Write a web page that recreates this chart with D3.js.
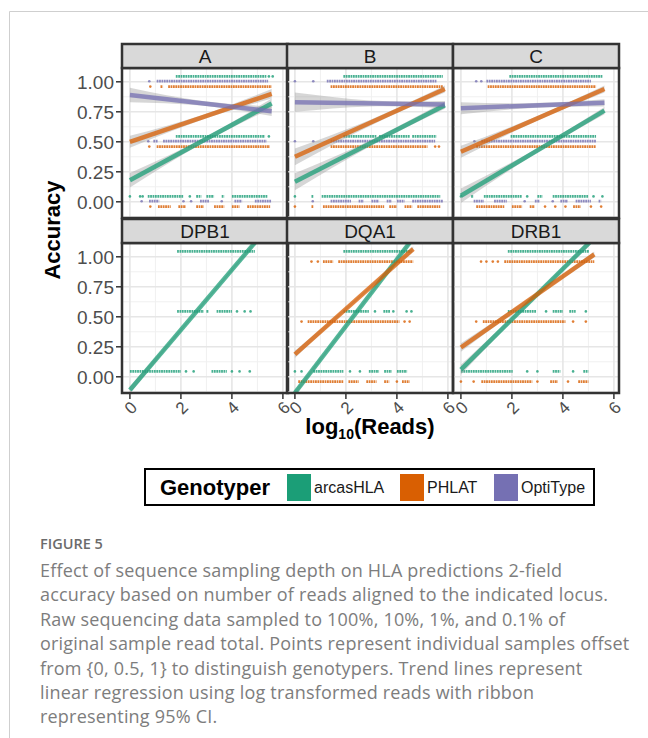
<!DOCTYPE html>
<html>
<head>
<meta charset="utf-8">
<title>HLA accuracy vs reads</title>
<script src="https://d3js.org/d3.v7.min.js"></script>
<style>
  body { margin: 0; background: #fff; }
  svg text { font-family: "Liberation Sans", Arial, sans-serif; }
  svg text.cap { font-family: "Open Sans", sans-serif; }
</style>
</head>
<body>
<script>
var panels = ["A", "B", "C", "DPB1", "DQA1", "DRB1"];
var genotypers = ["arcasHLA", "PHLAT", "OptiType"];
var genoColors = ["#1b9e77", "#d95f02", "#7570b3"];
var genoOffset = [0.045, -0.04, 0.005];   // points are shifted off 0 / 0.5 / 1
var yTicks = [0, 0.25, 0.5, 0.75, 1];
var xTicks = [0, 2, 4, 6];

// panel, genotyper, x start, y start, x end, y end, ribbon half width (left, middle, right)
var fits = [
  ["A", "arcasHLA", 0, 0.18, 5.56, 0.82, 0.06, 0.02, 0.04],
  ["A", "PHLAT", 0, 0.50, 5.56, 0.90, 0.05, 0.02, 0.04],
  ["A", "OptiType", 0, 0.89, 5.56, 0.755, 0.06, 0.02, 0.04],
  ["B", "arcasHLA", 0, 0.167, 5.88, 0.805, 0.07, 0.025, 0.03],
  ["B", "PHLAT", 0, 0.375, 5.88, 0.94, 0.07, 0.025, 0.03],
  ["B", "OptiType", 0, 0.83, 5.88, 0.81, 0.08, 0.025, 0.03],
  ["C", "arcasHLA", 0, 0.05, 5.63, 0.76, 0.06, 0.02, 0.03],
  ["C", "PHLAT", 0, 0.417, 5.63, 0.94, 0.05, 0.02, 0.03],
  ["C", "OptiType", 0, 0.78, 5.63, 0.825, 0.05, 0.02, 0.03],
  ["DPB1", "arcasHLA", 0, -0.11, 4.95, 1.13, 0.03, 0.01, 0.015],
  ["DQA1", "arcasHLA", 0, -0.134, 4.57, 1.137, 0.02, 0.01, 0.015],
  ["DQA1", "PHLAT", 0, 0.187, 4.64, 1.065, 0.03, 0.01, 0.02],
  ["DRB1", "arcasHLA", 0, 0.06, 5.04, 1.118, 0.04, 0.015, 0.025],
  ["DRB1", "PHLAT", 0, 0.244, 5.23, 1.02, 0.035, 0.015, 0.025]
];

// panel, genotyper, accuracy level, runs of samples along log10(reads): [x] one sample, [x0, x1] dense run
var strips = [
  ["A", "arcasHLA", 1, [[1.8, 5.35], [5.45], [5.6]]],
  ["A", "OptiType", 1, [[0.76], [1.05, 5.42]]],
  ["A", "PHLAT", 1, [[0.8], [1.2, 1.3], [1.5, 5.56]]],
  ["A", "arcasHLA", 0.5, [[1.8, 5.3], [5.45]]],
  ["A", "OptiType", 0.5, [[0.72], [0.92, 1.1], [1.3, 5.36]]],
  ["A", "PHLAT", 0.5, [[0.76], [1.05, 5.49]]],
  ["A", "arcasHLA", 0, [[0], [0.4], [0.5], [0.7, 2.1], [2.35], [2.6, 2.8], [3.0, 3.3], [3.6, 3.7], [4.0, 5.4]]],
  ["A", "OptiType", 0, [[0.46], [0.75, 1.15], [2.1], [2.4], [2.75, 3.1], [3.6], [4.1, 4.4], [4.9, 5.55]]],
  ["A", "PHLAT", 0, [[0.8], [1.1, 1.6], [1.9, 2.2], [2.6, 2.9], [3.3, 3.7], [4.0, 4.3], [4.6, 5.5]]],

  ["B", "arcasHLA", 1, [[1.9, 5.8]]],
  ["B", "OptiType", 1, [[0], [0.72], [1.25, 5.55]]],
  ["B", "PHLAT", 1, [[1.4, 5.8]]],
  ["B", "arcasHLA", 0.5, [[1.9, 3.2], [3.3, 4.5], [4.6, 5.55]]],
  ["B", "OptiType", 0.5, [[0], [0.72], [1.4, 5.5]]],
  ["B", "PHLAT", 0.5, [[1.4, 5.2], [5.5], [5.65]]],
  ["B", "arcasHLA", 0, [[0], [0.65, 0.72], [1.05, 5.7]]],
  ["B", "OptiType", 0, [[0.7], [1.4, 2.2], [2.5, 2.7], [3.0, 3.3], [3.6, 3.8], [4.0, 4.3], [4.6, 5.8]]],
  ["B", "PHLAT", 0, [[0], [0.65, 0.72], [1.1, 3.5], [3.7, 4.0], [4.3, 4.6], [4.8, 5.7]]],

  ["C", "arcasHLA", 1, [[1.9, 5.56]]],
  ["C", "OptiType", 1, [[0.6], [0.8], [1.0, 5.1]]],
  ["C", "PHLAT", 1, [[1.05, 5.3]]],
  ["C", "arcasHLA", 0.5, [[1.95, 5.3]]],
  ["C", "OptiType", 0.5, [[0.53], [0.8, 5.3]]],
  ["C", "PHLAT", 0.5, [[0.6, 5.3]]],
  ["C", "arcasHLA", 0, [[0], [0.4, 0.5], [0.9, 2.4], [2.6], [3.0, 3.2], [3.6, 5.0], [5.2], [5.55]]],
  ["C", "OptiType", 0, [[0.5, 0.9], [1.3, 1.8], [2.5], [2.9, 3.1], [3.6], [3.9, 4.2], [4.5, 5.1], [5.4, 5.5]]],
  ["C", "PHLAT", 0, [[0.6, 1.7], [2.0, 2.4], [2.7, 2.9], [3.3], [3.7], [4.1], [4.4, 4.7], [5.1], [5.5]]],

  ["DPB1", "arcasHLA", 1, [[1.85, 4.9]]],
  ["DPB1", "arcasHLA", 0.5, [[1.85, 2.9], [3.0, 3.1], [3.4, 4.0], [4.2], [4.5], [4.73]]],
  ["DPB1", "arcasHLA", 0, [[0, 2.0], [2.2], [2.5], [3.2, 3.8], [4.0], [4.3], [4.7]]],

  ["DQA1", "arcasHLA", 1, [[1.9, 4.57]]],
  ["DQA1", "PHLAT", 1, [[0.65], [0.9], [1.1, 1.5], [1.7, 4.64]]],
  ["DQA1", "arcasHLA", 0.5, [[1.9, 2.9], [3.14], [3.47, 3.73], [3.86], [4.38], [4.57]]],
  ["DQA1", "PHLAT", 0.5, [[0.26], [0.5, 4.1], [4.3], [4.5]]],
  ["DQA1", "arcasHLA", 0, [[0], [0.26], [0.72, 1.9], [2.16], [2.55], [2.9, 3.3], [3.5, 3.8], [4.0, 4.4]]],
  ["DQA1", "PHLAT", 0, [[0.13, 1.9], [2.1, 2.5], [2.8, 3.2], [3.5, 3.7], [4.0], [4.2, 4.5]]],

  ["DRB1", "arcasHLA", 1, [[1.84, 5.04]]],
  ["DRB1", "PHLAT", 1, [[0.79], [1.0], [1.25], [1.45], [1.7, 5.23]]],
  ["DRB1", "arcasHLA", 0.5, [[1.84, 2.95], [3.34], [3.6, 4.0], [4.25, 4.5], [4.9]]],
  ["DRB1", "PHLAT", 0.5, [[0.6], [0.86, 4.1], [4.4], [4.9]]],
  ["DRB1", "arcasHLA", 0, [[0, 2.03], [2.6], [3.0], [3.6, 3.9], [4.4], [4.8, 5.0]]],
  ["DRB1", "PHLAT", 0, [[0], [0.5], [0.8, 2.8], [3.0], [3.5, 3.8], [4.2], [4.6, 5.0]]]
];

var caption = [
  "Effect of sequence sampling depth on HLA predictions 2-field",
  "accuracy based on number of reads aligned to the indicated locus.",
  "Raw sequencing data sampled to 100%, 10%, 1%, and 0.1% of",
  "original sample read total. Points represent individual samples offset",
  "from {0, 0.5, 1} to distinguish genotypers. Trend lines represent",
  "linear regression using log transformed reads with ribbon",
  "representing 95% CI."
];

var w = 648, h = 738;
var colX = [122, 287, 453], pW = 166;
var stripTop = [44, 219], stripH = 24, pH = 150;

var svg = d3.select("body").append("svg").attr("width", w).attr("height", h);

// figure frame
svg.append("path").attr("d", "M9.5,738 V11.5 H648").attr("fill", "none").attr("stroke", "#cfcfcf");

var colorOf = d3.scaleOrdinal().domain(genotypers).range(genoColors);
var offsetOf = d3.scaleOrdinal().domain(genotypers).range(genoOffset);

panels.forEach(function (p, i) {
  var c = i % 3, r = Math.floor(i / 3);
  var left = colX[c], top = stripTop[r] + stripH;
  var x = d3.scaleLinear().domain([-0.31, 6.2]).range([left, left + pW]);
  var y = d3.scaleLinear().domain([-0.135, 1.115]).range([top + pH, top]);
  var g = svg.append("g");

  g.append("clipPath").attr("id", "clip" + i)
    .append("rect").attr("x", left).attr("y", top).attr("width", pW).attr("height", pH);

  // grid
  [1, 3, 5].forEach(function (v) {
    g.append("line").attr("x1", x(v)).attr("x2", x(v)).attr("y1", top).attr("y2", top + pH)
      .attr("stroke", "#f0f0f0").attr("stroke-width", 1);
  });
  [-0.125, 0.125, 0.375, 0.625, 0.875].forEach(function (v) {
    g.append("line").attr("x1", left).attr("x2", left + pW).attr("y1", y(v)).attr("y2", y(v))
      .attr("stroke", "#f0f0f0").attr("stroke-width", 1);
  });
  xTicks.forEach(function (v) {
    g.append("line").attr("x1", x(v)).attr("x2", x(v)).attr("y1", top).attr("y2", top + pH)
      .attr("stroke", "#e6e6e6").attr("stroke-width", 1.6);
  });
  yTicks.forEach(function (v) {
    g.append("line").attr("x1", left).attr("x2", left + pW).attr("y1", y(v)).attr("y2", y(v))
      .attr("stroke", "#e6e6e6").attr("stroke-width", 1.6);
  });

  var plot = g.append("g").attr("clip-path", "url(#clip" + i + ")");

  // sample points
  strips.filter(function (s) { return s[0] === p; }).forEach(function (s) {
    var yy = y(s[2] + offsetOf(s[1]));
    s[3].forEach(function (run) {
      if (run.length === 1) {
        plot.append("circle").attr("cx", x(run[0])).attr("cy", yy).attr("r", 1.3)
          .attr("fill", colorOf(s[1])).attr("opacity", 0.8);
      } else {
        plot.append("line").attr("x1", x(run[0])).attr("x2", x(run[1]))
          .attr("y1", yy).attr("y2", yy)
          .attr("stroke", colorOf(s[1])).attr("stroke-width", 2.8)
          .attr("stroke-dasharray", "1.8,0.6").attr("opacity", 0.8);
      }
    });
  });

  // ribbons then trend lines
  var pf = fits.filter(function (f) { return f[0] === p; });
  pf.forEach(function (f) {
    var xm = (f[2] + f[4]) / 2, ym = (f[3] + f[5]) / 2;
    var pts = [[f[2], f[3], f[6]], [xm, ym, f[7]], [f[4], f[5], f[8]]];
    var area = d3.area().curve(d3.curveNatural)
      .x(function (d) { return x(d[0]); })
      .y0(function (d) { return y(d[1] - d[2]); })
      .y1(function (d) { return y(d[1] + d[2]); });
    plot.append("path").attr("d", area(pts)).attr("fill", "#999999").attr("opacity", 0.4);
  });
  pf.forEach(function (f) {
    plot.append("line").attr("x1", x(f[2])).attr("y1", y(f[3])).attr("x2", x(f[4])).attr("y2", y(f[5]))
      .attr("stroke", colorOf(f[1])).attr("stroke-width", 4.5).attr("opacity", 0.75);
  });

  // panel border and strip
  g.append("rect").attr("x", left).attr("y", top).attr("width", pW).attr("height", pH)
    .attr("fill", "none").attr("stroke", "#333").attr("stroke-width", 2.5);
  g.append("rect").attr("x", left).attr("y", stripTop[r]).attr("width", pW).attr("height", stripH)
    .attr("fill", "#d9d9d9").attr("stroke", "#333").attr("stroke-width", 2.5);
  g.append("text").attr("x", left + pW / 2).attr("y", stripTop[r] + stripH / 2 + 7)
    .attr("text-anchor", "middle").attr("font-size", 19).attr("fill", "#1a1a1a").text(p);

  // axes
  if (c === 0) {
    yTicks.forEach(function (v) {
      g.append("line").attr("x1", left - 6).attr("x2", left - 1).attr("y1", y(v)).attr("y2", y(v))
        .attr("stroke", "#333").attr("stroke-width", 1.5);
      g.append("text").attr("x", left - 8).attr("y", y(v) + 7)
        .attr("text-anchor", "end").attr("font-size", 19).attr("fill", "#4d4d4d").text(v.toFixed(2));
    });
  }
  if (r === 1) {
    xTicks.forEach(function (v) {
      g.append("line").attr("x1", x(v)).attr("x2", x(v)).attr("y1", top + pH + 1).attr("y2", top + pH + 6)
        .attr("stroke", "#333").attr("stroke-width", 1.5);
      g.append("text").attr("transform", "translate(" + (x(v) + 1) + "," + (top + pH + 15) + ") rotate(-45)")
        .attr("text-anchor", "middle").attr("dominant-baseline", "central")
        .attr("font-size", 17).attr("fill", "#4d4d4d").text(v);
    });
  }
});

// axis titles
svg.append("text").attr("transform", "translate(60,230) rotate(-90)")
  .attr("text-anchor", "middle").attr("font-size", 22).attr("font-weight", "bold").text("Accuracy");
var xt = svg.append("text").attr("x", 370).attr("y", 434).attr("text-anchor", "middle")
  .attr("font-size", 22).attr("font-weight", "bold");
xt.append("tspan").text("log");
xt.append("tspan").attr("font-size", 14).attr("dy", 5).text("10");
xt.append("tspan").attr("dy", -5).text("(Reads)");

// legend
svg.append("rect").attr("x", 145).attr("y", 469).attr("width", 449).attr("height", 36)
  .attr("fill", "#fff").attr("stroke", "#000").attr("stroke-width", 2);
svg.append("text").attr("x", 160).attr("y", 495).attr("font-size", 22).attr("font-weight", "bold").text("Genotyper");
var keyX = [287, 400, 494];
genotypers.forEach(function (gname, k) {
  svg.append("rect").attr("x", keyX[k]).attr("y", 474).attr("width", 24).attr("height", 27)
    .attr("fill", colorOf(gname));
  svg.append("text").attr("x", keyX[k] + 27).attr("y", 493).attr("font-size", 16).attr("fill", "#1a1a1a").text(gname);
});

// caption
svg.append("text").attr("class", "cap").attr("x", 40).attr("y", 549)
  .attr("font-size", 14.5).attr("font-weight", 600).attr("fill", "#6b6b6b").text("FIGURE 5");
svg.selectAll(".capline").data(caption).enter().append("text").attr("class", "cap capline")
  .attr("x", 40).attr("y", function (d, i) { return 577 + i * 24.4; })
  .attr("font-size", 18).attr("letter-spacing", 0.2).attr("fill", "#7d7d7d")
  .text(function (d) { return d; });
</script>
</body>
</html>
